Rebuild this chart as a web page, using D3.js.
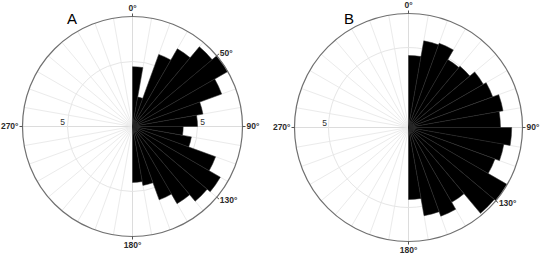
<!DOCTYPE html>
<html>
<head>
<meta charset="utf-8">
<script src="https://cdn.jsdelivr.net/npm/d3@7/dist/d3.min.js"></script>
<style>
  body { margin: 0; background: #fff; }
  svg { display: block; }
  .ang { font-family: "Liberation Sans", Arial, sans-serif; font-size: 8.5px; font-weight: bold; fill: #2b2b2b; }
  .rlab { font-family: "Liberation Sans", Arial, sans-serif; font-size: 8.5px; fill: #333; }
  .panel { font-family: "Liberation Sans", Arial, sans-serif; font-size: 15px; fill: #000; }
</style>
</head>
<body>
<div id="chart"></div>
<script>
'use strict';

// 10 degree bins, 0 - 180
const binStarts = [0, 10, 20, 30, 40, 50, 60, 70, 80, 90, 100, 110, 120, 130, 140, 150, 160, 170];
const binWidth = 10;

// bar lengths (radial axis units)
const valuesA = [4.6, 2.3, 5.9, 6.9, 8.0, 8.46, 7.3, 5.5, 5.0, 3.9, 4.6, 6.8, 7.8, 7.5, 6.85, 6.0, 4.6, 4.3];
const valuesB = [4.5, 5.5, 5.6, 4.9, 5.0, 5.4, 5.6, 6.0, 5.75, 6.45, 6.05, 5.75, 7.1, 7.0, 5.4, 5.9, 5.6, 4.5];

const angleLabelsA = [0, 50, 90, 130, 180, 270];
const angleLabelsB = [0, 90, 130, 180, 270];
const radialTicks = [5];

const width = 545;
const height = 258;

const svg = d3.select("#chart").append("svg")
  .attr("width", width)
  .attr("height", height);

const toRad = d => d * Math.PI / 180;

// draws one rose diagram
const rose = function(opts) {
  const r = d3.scaleLinear().domain([0, opts.max]).range([0, opts.radius]);
  const g = svg.append("g").attr("transform", `translate(${opts.cx},${opts.cy})`);

  // spokes every 10 degrees
  const spokes = d3.range(0, 360, 10);
  g.selectAll("line.spoke")
    .data(spokes)
    .enter().append("line")
    .attr("class", "spoke")
    .attr("x1", 0).attr("y1", 0)
    .attr("x2", d => Math.sin(toRad(d)) * opts.radius)
    .attr("y2", d => -Math.cos(toRad(d)) * opts.radius)
    .attr("stroke", d => d % 90 === 0 ? "#dcdcdc" : "#ebebeb")
    .attr("stroke-width", 1);

  g.selectAll("circle.grid")
    .data(radialTicks)
    .enter().append("circle")
    .attr("class", "grid")
    .attr("r", d => r(d))
    .attr("fill", "none")
    .attr("stroke", "#e6e6e6")
    .attr("stroke-width", 1);

  // radial labels both sides (right one hides under the bars)
  radialTicks.forEach(t => {
    [-1, 1].forEach(side => {
      g.append("text")
        .attr("class", "rlab")
        .attr("x", side * (r(t) + opts.labOff))
        .attr("y", -1.5)
        .attr("text-anchor", "middle")
        .text(t);
    });
  });

  const arc = d3.arc()
    .innerRadius(0)
    .outerRadius(d => r(d.v))
    .startAngle(d => toRad(d.a))
    .endAngle(d => toRad(d.a + binWidth));

  const data = binStarts.map((a, i) => ({a: a, v: opts.values[i]}));
  g.selectAll("path.bar")
    .data(data)
    .enter().append("path")
    .attr("class", "bar")
    .attr("d", arc)
    .attr("fill", "#000")
    .attr("stroke", "#2a2a2a")
    .attr("stroke-width", 0.5);

  g.append("circle")
    .attr("r", opts.radius)
    .attr("fill", "none")
    .attr("stroke", "#707070")
    .attr("stroke-width", 1.2);

  // angle ticks and labels
  g.selectAll("line.atick")
    .data(opts.angles)
    .enter().append("line")
    .attr("class", "atick")
    .attr("x1", d => Math.sin(toRad(d)) * opts.radius)
    .attr("y1", d => -Math.cos(toRad(d)) * opts.radius)
    .attr("x2", d => Math.sin(toRad(d)) * (opts.radius + 3))
    .attr("y2", d => -Math.cos(toRad(d)) * (opts.radius + 3))
    .attr("stroke", "#555")
    .attr("stroke-width", 1);

  g.selectAll("text.ang")
    .data(opts.angles)
    .enter().append("text")
    .attr("class", "ang")
    .attr("x", d => Math.sin(toRad(d)) * (opts.radius + 4))
    .attr("y", d => -Math.cos(toRad(d)) * (opts.radius + 4))
    .attr("text-anchor", d => {
      const s = Math.round(Math.sin(toRad(d)) * 100);
      return s > 30 ? "start" : (s < -30 ? "end" : "middle");
    })
    .attr("dy", d => {
      const c = Math.cos(toRad(d));
      return c > 0.8 ? "-0.15em" : (c < -0.8 ? "0.9em" : "0.35em");
    })
    .text(d => d + "°");

  svg.append("text")
    .attr("class", "panel")
    .attr("x", opts.lx)
    .attr("y", opts.ly)
    .attr("text-anchor", "middle")
    .text(opts.name);
};

rose({name: "A", cx: 132.5, cy: 126.5, radius: 110, max: 8.46, values: valuesA,
      angles: angleLabelsA, labOff: 5, lx: 72, ly: 24});
rose({name: "B", cx: 408.5, cy: 127.5, radius: 114, max: 7.125, values: valuesB,
      angles: angleLabelsB, labOff: 4, lx: 349, ly: 24});
</script>
</body>
</html>
